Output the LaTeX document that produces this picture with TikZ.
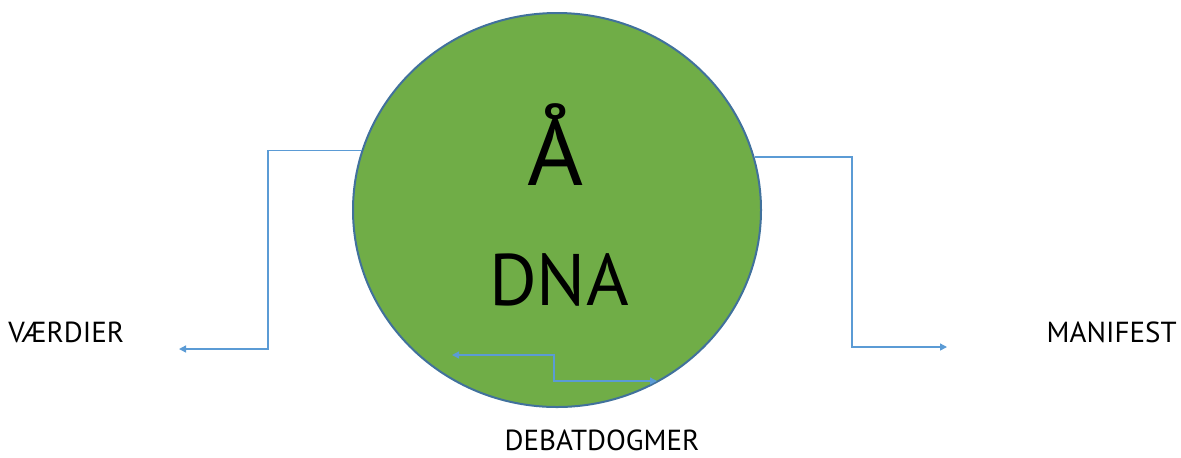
\documentclass[tikz,border=0pt]{standalone}
\usepackage{fontspec}
\setmainfont{PT Sans}
\usetikzlibrary{shapes.geometric,arrows.meta}
\definecolor{dnagreen}{HTML}{70AD47}
\definecolor{dnaedge}{HTML}{41719C}
\definecolor{connblue}{HTML}{5B9BD5}
\begin{document}
\begin{tikzpicture}[x=0.5pt,y=-0.5pt]
	\tikzstyle{every node}=[inner sep=0pt]
	\tikzstyle{conn}=[draw=connblue,line width=0.7pt,-{Triangle[length=3.5pt,width=3.5pt]}]
	\tikzstyle{label}=[font=\fontsize{14.5}{14.5}\selectfont]
	\useasboundingbox (0,0) rectangle (1181,457);
	\node[ellipse,fill=dnagreen,draw=dnaedge,line width=1pt,
		minimum width=204pt,minimum height=197pt] (circ) at (557,210) {};
	\node[anchor=base,font=\fontsize{48}{48}\selectfont] (aa) at (556,185) {Å};
	\node[anchor=base,font=\fontsize{36.5}{36.5}\selectfont] (dna) at (559,305) {DNA};
	\node[label,anchor=base west] (vaerdier) at (8,342) {VÆRDIER};
	\node[label,anchor=base east] (manifest) at (1177,342) {MANIFEST};
	\node[label,anchor=base] (debat) at (602,450) {DEBATDOGMER};
	% arrow ends
	\coordinate (vend) at (179,349);
	\coordinate (mend) at (947,347);
	\coordinate (dleft) at (452,355);
	\coordinate (dright) at (657,381);
	\draw[conn] (circ.163) -| (268,250) |- (vend);
	\draw[conn] (circ.15) -| (852,250) |- (mend);
	\draw[conn,{Triangle[length=3.5pt,width=3.5pt]}-{Triangle[length=3.5pt,width=3.5pt]}]
		(dleft) -| (554,368) |- (dright);
\end{tikzpicture}
\end{document}
